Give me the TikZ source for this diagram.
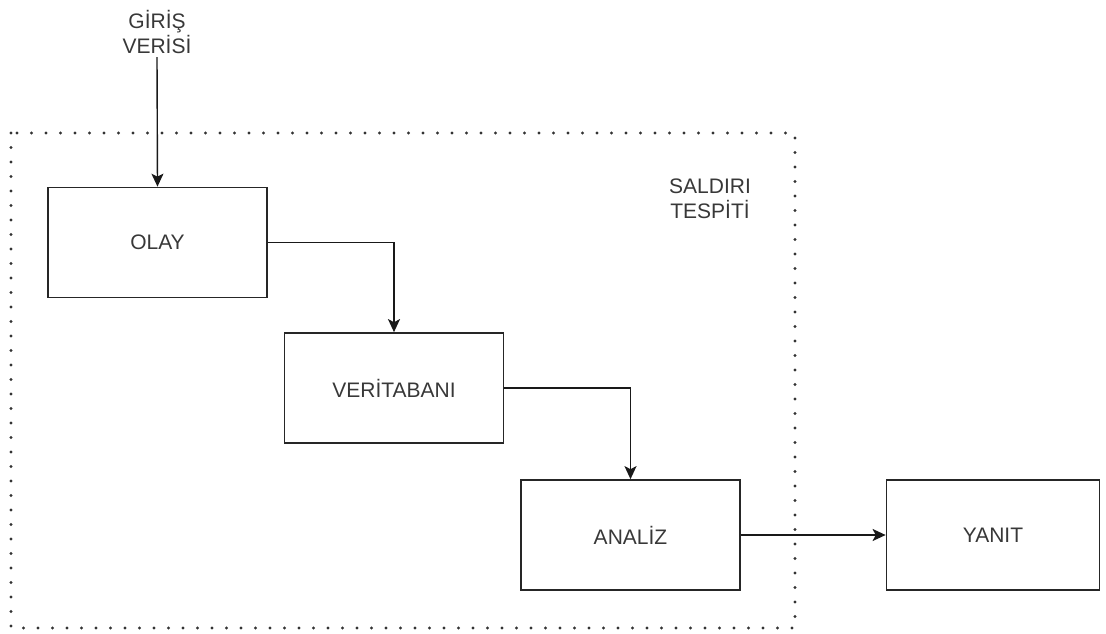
\documentclass[tikz,border=0pt]{standalone}
\usepackage{fontspec}
\setmainfont{Liberation Sans}
\usetikzlibrary{arrows.meta}
\begin{document}
\begin{tikzpicture}[x=1pt,y=-1pt,
  every node/.style={font=\fontsize{21}{25}\selectfont, text=black!78},
  block/.style={draw=black!85, line width=1.7pt, minimum width=219pt, minimum height=110pt, inner sep=0pt},
  link/.style={draw=black!90, line width=1.4pt, -{Stealth[length=13pt,width=12pt,inset=3pt]}},
  dotframe/.style={draw=black!80, line width=3.4pt, line cap=round, dash pattern=on 0pt off 14.5pt}
]
\useasboundingbox (0,0) rectangle (1106,634);
% dotted frame around the detection stage
\draw[dotframe] (11,133) rectangle (795,628);
\node[align=center] (lbl) at (710,199) {SALDIRI\\TESPİTİ};
% input label
\node[align=center] (inp) at (157,32) {GİRİŞ\\VERİSİ};
% stages
\node[block] (olay) at (157.5,242.5) {OLAY};
\node[block] (vt) at (394,388) {VERİTABANI};
\node[block] (an) at (630.5,535) {ANALİZ};
\node[block, minimum width=213pt] (yn) at (993,535) {YANIT};
% connectors
\draw[link] (inp.south) -- (olay.north);
\draw[link] (olay.east) -| (vt.north);
\draw[link] (vt.east) -| (an.north);
\draw[link] (an.east) -- (yn.west);
\end{tikzpicture}
\end{document}
